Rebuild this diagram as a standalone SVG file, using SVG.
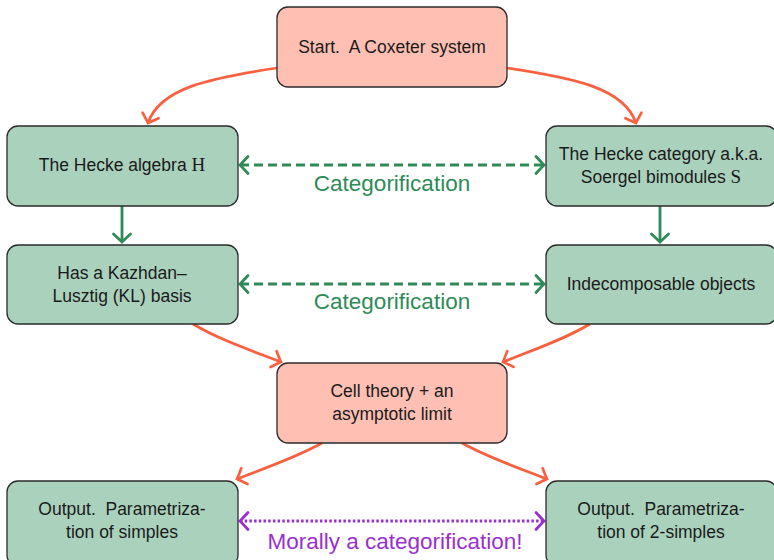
<svg xmlns="http://www.w3.org/2000/svg" width="774" height="560" viewBox="0 0 774 560">
<style>
.box{stroke:#2b2b2b;stroke-width:1.3}
.red{fill:#ffbfb3}
.grn{fill:#aad1bc}
.t{font-family:"Liberation Sans","DejaVu Sans",sans-serif;font-size:17.5px;fill:#1a1a1a;text-anchor:middle;white-space:pre}
.m{font-family:"Liberation Serif",serif;font-size:19px}
.o{fill:none;stroke:#f9603f;stroke-width:2.7}
.g{fill:none;stroke:#2e8b57;stroke-width:2.8}
.p{fill:none;stroke:#9a2fd0;stroke-width:2.8}
.lbl{font-family:"Liberation Sans","DejaVu Sans",sans-serif;font-size:22.5px;text-anchor:middle}
</style>
<defs>
<marker id="ao" markerUnits="userSpaceOnUse" markerWidth="24" markerHeight="24" viewBox="-12 -12 24 24" refX="0" refY="0" orient="auto">
<path d="M-8,-8.5 Q-2,-2 0,0 Q-2,2 -8,8.5" fill="none" stroke="#f9603f" stroke-width="2.7" stroke-linecap="round"/>
</marker>
<marker id="ag" markerUnits="userSpaceOnUse" markerWidth="24" markerHeight="24" viewBox="-12 -12 24 24" refX="0" refY="0" orient="auto-start-reverse">
<path d="M-8,-8.5 Q-2,-2 0,0 Q-2,2 -8,8.5" fill="none" stroke="#2e8b57" stroke-width="2.8" stroke-linecap="round"/>
</marker>
<marker id="ap" markerUnits="userSpaceOnUse" markerWidth="24" markerHeight="24" viewBox="-12 -12 24 24" refX="0" refY="0" orient="auto-start-reverse">
<path d="M-8,-8.5 Q-2,-2 0,0 Q-2,2 -8,8.5" fill="none" stroke="#9a2fd0" stroke-width="2.8" stroke-linecap="round"/>
</marker>
</defs>
<rect width="774" height="560" fill="#ffffff"/>

<g id="connectors">
<path class="o" d="M277,68 C210,78 160,88 148,123" marker-end="url(#ao)"/>
<path class="o" d="M507,68 C574,78 624,88 636,123" marker-end="url(#ao)"/>
<path class="g" d="M122,206 L122,242" marker-end="url(#ag)"/>
<path class="g" d="M660,206 L660,242" marker-end="url(#ag)"/>
<path class="g" d="M240,165 L544,165" stroke-dasharray="9,5" marker-start="url(#ag)" marker-end="url(#ag)"/>
<path class="g" d="M240,284 L544,284" stroke-dasharray="9,5" marker-start="url(#ag)" marker-end="url(#ag)"/>
<path class="o" d="M193,324 C220,340 250,350 281,362" marker-end="url(#ao)"/>
<path class="o" d="M590,324 C563,340 533,350 503,362" marker-end="url(#ao)"/>
<path class="o" d="M322,443 C295,458 265,468 237,479" marker-end="url(#ao)"/>
<path class="o" d="M462,443 C489,458 519,468 547,479" marker-end="url(#ao)"/>
<path class="p" d="M240,521 L544,521" stroke-dasharray="2.5,2.2" marker-start="url(#ap)" marker-end="url(#ap)"/>
<text class="lbl" x="392" y="191" fill="#2e8b57">Categorification</text>
<text class="lbl" x="392" y="309" fill="#2e8b57">Categorification</text>
<text class="lbl" x="395" y="549" fill="#9a2fd0">Morally a categorification!</text>
</g>

<g id="start">
<rect class="box red" x="277" y="7" width="230" height="80" rx="11"/>
<text class="t" x="392" y="53">Start.  A Coxeter system</text>
</g>
<g id="hecke-algebra">
<rect class="box grn" x="7" y="126" width="231" height="80" rx="11"/>
<text class="t" x="122" y="171">The Hecke algebra <tspan class="m">H</tspan></text>
</g>
<g id="hecke-category">
<rect class="box grn" x="546" y="126" width="231" height="80" rx="11"/>
<text class="t" x="661" y="160">The Hecke category a.k.a.</text>
<text class="t" x="661" y="183">Soergel bimodules <tspan class="m">S</tspan></text>
</g>
<g id="kl-basis">
<rect class="box grn" x="7" y="245" width="231" height="79" rx="11"/>
<text class="t" x="122" y="279">Has a Kazhdan–</text>
<text class="t" x="122" y="302">Lusztig (KL) basis</text>
</g>
<g id="indecomposable">
<rect class="box grn" x="546" y="245" width="231" height="79" rx="11"/>
<text class="t" x="661" y="290">Indecomposable objects</text>
</g>
<g id="cell-theory">
<rect class="box red" x="277" y="363" width="230" height="80" rx="11"/>
<text class="t" x="392" y="397">Cell theory + an</text>
<text class="t" x="392" y="420">asymptotic limit</text>
</g>
<g id="output-left">
<rect class="box grn" x="7" y="481" width="231" height="85" rx="11"/>
<text class="t" x="122" y="515">Output.  Parametriza-</text>
<text class="t" x="122" y="538">tion of simples</text>
</g>
<g id="output-right">
<rect class="box grn" x="546" y="481" width="231" height="85" rx="11"/>
<text class="t" x="661" y="515">Output.  Parametriza-</text>
<text class="t" x="661" y="538">tion of 2-simples</text>
</g>
</svg>
